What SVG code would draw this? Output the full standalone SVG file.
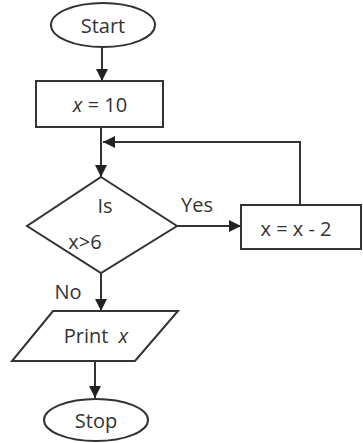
<svg xmlns="http://www.w3.org/2000/svg" width="363" height="443" viewBox="0 0 363 443">
<defs>
<style>
.s{fill:#fff;stroke:#333;stroke-width:2}
.c{fill:none;stroke:#333;stroke-width:2}
text{font-family:"Open Sans","Liberation Sans",sans-serif;font-size:20px;fill:#333;text-anchor:middle;dominant-baseline:central}
</style>
<marker id="a" viewBox="0 0 10 10" refX="10" refY="5" markerWidth="6" markerHeight="6" orient="auto" markerUnits="strokeWidth">
<path d="M0,0 L10,5 L0,10 z" fill="#222"/>
</marker>
</defs>
<g id="connectors">
<path class="c" d="M102,48 V81" marker-end="url(#a)"/>
<path class="c" d="M101,127 V177" marker-end="url(#a)"/>
<path class="c" d="M300,205 V142 H103" marker-end="url(#a)"/>
<path class="c" d="M177,226 H241" marker-end="url(#a)"/>
<path class="c" d="M101,273 V311" marker-end="url(#a)"/>
<path class="c" d="M95,361 V398" marker-end="url(#a)"/>
<text x="197" y="204">Yes</text>
<text x="68" y="291">No</text>
</g>
<g id="start">
<ellipse class="s" cx="103" cy="25" rx="52" ry="22"/>
<text x="103" y="25">Start</text>
</g>
<g id="init">
<rect class="s" x="36" y="81" width="127" height="46"/>
<text x="100" y="104"><tspan font-style="italic">x</tspan> = 10</text>
</g>
<g id="decision">
<polygon class="s" points="101,177 177,226 101,273 27,226"/>
<text x="105" y="205">Is</text>
<text x="85" y="241">x&gt;6</text>
</g>
<g id="update">
<rect class="s" x="241" y="205" width="120" height="44"/>
<text x="296" y="228">x = x - 2</text>
</g>
<g id="print">
<polygon class="s" points="53,311 178,311 135,361 12,361"/>
<text x="96" y="335">Print <tspan dx="5" font-style="italic">x</tspan></text>
</g>
<g id="stop">
<ellipse class="s" cx="96" cy="420" rx="52" ry="21"/>
<text x="96" y="420">Stop</text>
</g>
</svg>
